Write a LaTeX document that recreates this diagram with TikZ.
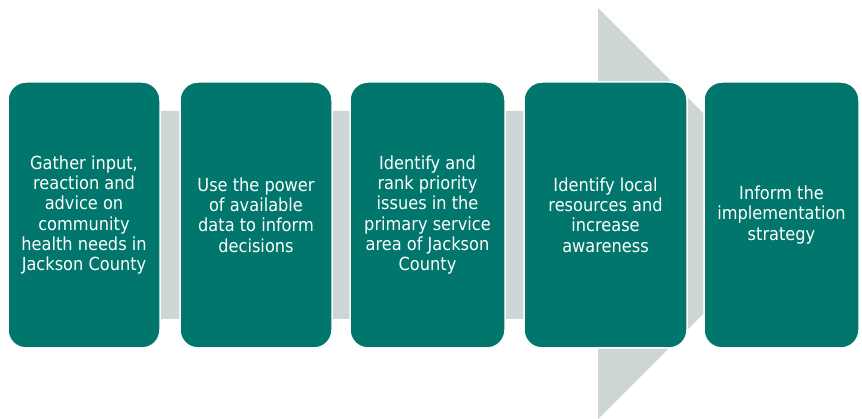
\documentclass[tikz,border=0pt]{standalone}
\usepackage{fontspec}
\newfontfamily\tahomalike[FakeStretch=0.9]{DejaVu Sans}
\definecolor{tealbox}{RGB}{0,118,108}
\definecolor{arrowgray}{RGB}{205,214,212}
\begin{document}
\begin{tikzpicture}[x=1pt,y=-1pt,
  stepbox/.style={rectangle, rounded corners=18pt, fill=tealbox, draw=white, line width=1.5pt,
    text=white, align=center, inner sep=0pt,
    font=\tahomalike\fontsize{18}{20.3}\selectfont}]
\useasboundingbox (0,0) rectangle (862,419);
% background arrow
\fill[arrowgray] (100,111) -- (598,111) -- (598,8) -- (803.5,213.5) -- (598,419) -- (598,319) -- (100,319) -- cycle;
% boxes
\node[stepbox, minimum width=152pt, minimum height=266pt] (b1) at (84,215)
  {Gather input,\\reaction and\\advice on\\community\\health needs in\\Jackson County};
\node[stepbox, minimum width=152pt, minimum height=266pt] (b2) at (256,215)
  {Use the power\\of available\\data to inform\\decisions};
\node[stepbox, minimum width=155pt, minimum height=266pt] (b3) at (427.5,215)
  {Identify and\\rank priority\\issues in the\\primary service\\area of Jackson\\County};
\node[stepbox, minimum width=163pt, minimum height=266pt] (b4) at (605.5,215)
  {Identify local\\resources and\\increase\\awareness};
\node[stepbox, minimum width=155pt, minimum height=266pt] (b5) at (781.5,215)
  {Inform the\\implementation\\strategy};
\end{tikzpicture}
\end{document}
